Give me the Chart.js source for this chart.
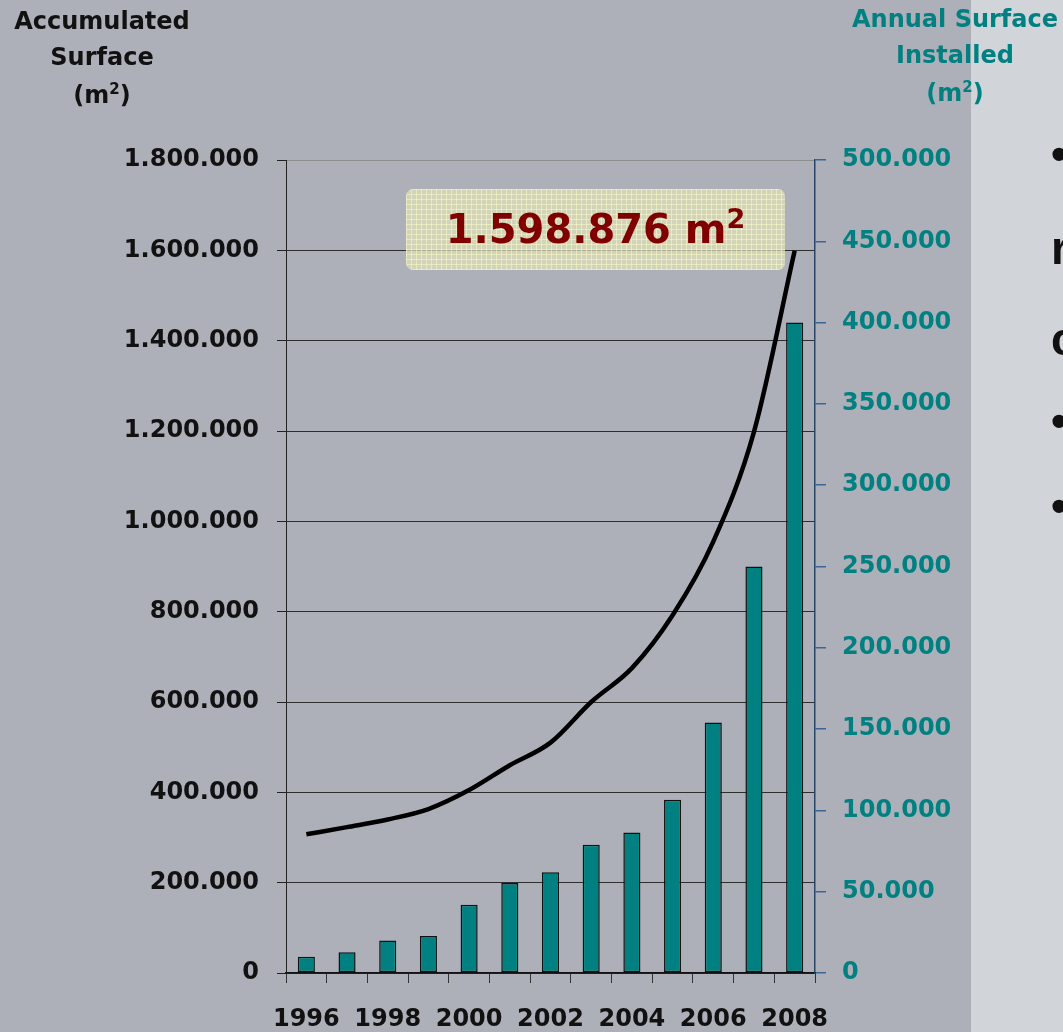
<!DOCTYPE html>
<html>
<head>
<meta charset="utf-8">
<script src="https://cdn.jsdelivr.net/npm/chart.js@4.4.0/dist/chart.umd.min.js"></script>
<style>
  html, body { margin: 0; padding: 0; }
  body {
    width: 1063px; height: 1032px; overflow: hidden; position: relative;
    background: linear-gradient(to right, #adb0b8 0, #adb0b8 971px, #d1d4d8 971px);
    font-family: "DejaVu Sans", sans-serif;
  }
  #chart { position: absolute; left: 0; top: 0; }
  .t { position: absolute; font-weight: bold; font-size: 24px; line-height: 24px; white-space: nowrap; text-align: center; }
  .t sup { font-size: 15px; line-height: 0; vertical-align: 9px; }
  .left { color: #111; left: 2px; width: 200px; }
  .right { color: #008080; left: 845px; width: 220px; }
  #note {
    position: absolute; left: 406px; top: 189px; width: 379px; height: 81px;
    border-radius: 7px;
    background-color: rgba(224, 226, 186, 0.72);
    background-image:
      repeating-linear-gradient(to right, rgba(250, 248, 200, 0.55) 0 1px, transparent 1px 5px),
      repeating-linear-gradient(to bottom, rgba(250, 248, 200, 0.55) 0 1px, transparent 1px 5px);
    color: #800000; font-weight: bold; font-size: 40px; line-height: 81px; text-align: center;
  }
  #note sup { font-size: 27px; line-height: 0; vertical-align: 15px; }
  .side { position: absolute; left: 1051px; color: #111; font-family: "Liberation Sans", sans-serif; font-weight: bold; font-size: 46px; line-height: 46px; }
</style>
</head>
<body>
<canvas id="chart" width="1063" height="1032"></canvas>

<div class="t left" style="top:9px">Accumulated</div>
<div class="t left" style="top:45px">Surface</div>
<div class="t left" style="top:83px">(m<sup>2</sup>)</div>

<div class="t right" style="top:7px">Annual Surface</div>
<div class="t right" style="top:43px">Installed</div>
<div class="t right" style="top:81px">(m<sup>2</sup>)</div>

<div id="note">1.598.876 m<sup>2</sup></div>

<div class="side" style="top:131px">•</div>
<div class="side" style="top:225px">r</div>
<div class="side" style="top:316px">c</div>
<div class="side" style="top:398px">•</div>
<div class="side" style="top:483px">•</div>

<script>
// years on the x axis (only every other one gets a label)
const years = ['1996', '1997', '1998', '1999', '2000', '2001', '2002',
               '2003', '2004', '2005', '2006', '2007', '2008'];

// m2 installed each year (right axis)
const annualSurface = [10000, 12700, 20000, 22800, 42000, 55400, 62000,
                       78800, 86400, 106500, 154000, 250000, 400000];

// accumulated m2 (left axis)
const accumulatedSurface = [307000, 323000, 340000, 363000, 405000, 460000, 510000,
                            600000, 675000, 792000, 955000, 1198000, 1598876];

// axis ranges
const leftMax = 1800000, leftStep = 200000;
const rightMax = 500000, rightStep = 50000;

// 1234567 -> 1.234.567
function dots(v) {
    return String(v).replace(/\B(?=(\d{3})+(?!\d))/g, '.');
}

const tickFont = { family: 'DejaVu Sans', size: 24, weight: 'bold' };

new Chart(document.getElementById('chart'), {
    type: 'bar',
    data: {
        labels: years,
        datasets: [{
            type: 'line',
            label: 'Accumulated Surface',
            data: accumulatedSurface,
            yAxisID: 'yL',
            borderColor: '#000',
            borderWidth: 4.5,
            pointRadius: 0,
            cubicInterpolationMode: 'monotone',
            order: 0
        }, {
            label: 'Annual Surface Installed',
            data: annualSurface,
            yAxisID: 'yR',
            backgroundColor: '#008080',
            borderColor: '#111',
            borderWidth: 1.5,
            borderSkipped: false,
            categoryPercentage: 1,
            barPercentage: 0.42,
            order: 1
        }]
    },
    options: {
        responsive: false,
        animation: false,
        layout: { padding: { top: 160, left: 0, right: 0, bottom: 0 } },
        plugins: {
            legend: { display: false },
            tooltip: { enabled: false }
        },
        scales: {
            x: {
                offset: true,
                grid: {
                    offset: true,
                    drawOnChartArea: false,
                    tickLength: 10,
                    color: '#333'
                },
                border: { color: '#111', width: 1.5 },
                ticks: {
                    autoSkip: false,
                    maxRotation: 0,
                    padding: 22,
                    color: '#111',
                    font: tickFont,
                    callback: (v, i) => i % 2 === 0 ? years[i] : ''
                },
                afterFit: (scale) => { scale.height = 59; }
            },
            yL: {
                position: 'left',
                min: 0,
                max: leftMax,
                grid: {
                    color: (ctx) => ctx.tick && ctx.tick.value === leftMax ? '#8c8c8c' : '#2e2e2e',
                    tickColor: '#222',
                    tickLength: 9,
                    lineWidth: 1
                },
                border: { color: '#222', width: 1 },
                ticks: {
                    stepSize: leftStep,
                    padding: 18,
                    color: '#111',
                    font: tickFont,
                    callback: (v) => dots(v)
                },
                afterFit: (scale) => { scale.width = 286; }
            },
            yR: {
                position: 'right',
                min: 0,
                max: rightMax,
                grid: {
                    drawOnChartArea: false,
                    tickColor: '#3b6594',
                    tickLength: 11,
                    lineWidth: 1.5
                },
                border: { color: '#25466e', width: 1.5 },
                ticks: {
                    stepSize: rightStep,
                    padding: 16,
                    color: '#008080',
                    font: tickFont,
                    callback: (v) => dots(v)
                },
                afterFit: (scale) => { scale.width = 248; }
            }
        }
    }
});
</script>
</body>
</html>
